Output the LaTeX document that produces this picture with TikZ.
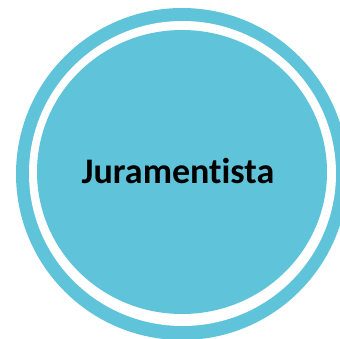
\documentclass[tikz,border=0pt]{standalone}
\usepackage{fontspec}
\setmainfont[Ligatures=NoCommon]{Carlito}
\usetikzlibrary{shapes.geometric}
\definecolor{ringblue}{HTML}{5FC4DA}
\begin{document}
\begin{tikzpicture}[x=1pt,y=-1pt]
    \useasboundingbox (0,0) rectangle (340,338);
    \tikzstyle{outerring} = [ellipse, minimum width=332, minimum height=332, inner sep=0, fill=ringblue]
    \tikzstyle{gapring} = [ellipse, minimum width=307, minimum height=305, inner sep=0, fill=white]
    \tikzstyle{core} = [ellipse, minimum width=290, minimum height=284, inner sep=0, fill=ringblue]
    \node (outer) [outerring] at (182,174) {};
    \node (gap) [gapring] at (182.5,173.5) {};
    \node (core) [core] at (182,172) {};
    \node (label) at (178,171) {\fontsize{36}{42}\selectfont\bfseries Juramentista};
\end{tikzpicture}
\end{document}
